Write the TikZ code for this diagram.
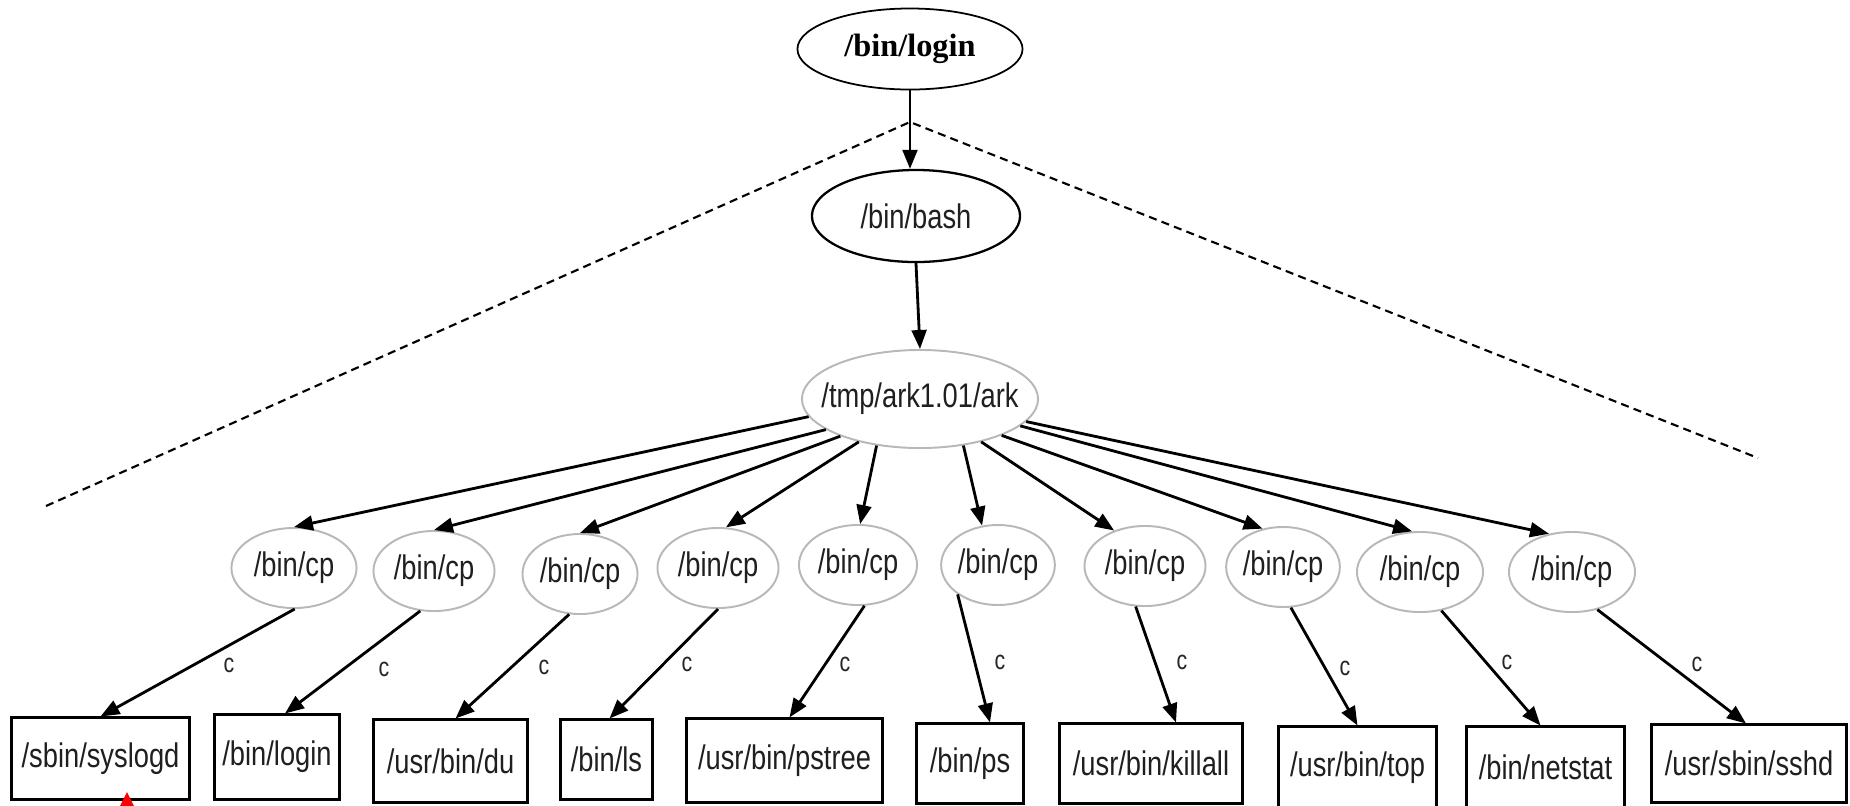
\documentclass[tikz,border=0pt]{standalone}
\usepackage{fontspec}
\newfontfamily\labfont[FakeStretch=0.80]{Liberation Sans}
\newfontfamily\tmsfont{Liberation Serif}
\usetikzlibrary{shapes.geometric,arrows.meta}
\tikzset{
  lab/.style={font=\labfont\fontsize{9.7}{11}\selectfont, text=black!88},
  cpnode/.style={ellipse, draw=black!28, line width=0.55pt, inner sep=0pt, minimum height=0.80cm, lab},
  boxnode/.style={rectangle, draw=black, line width=0.85pt, inner sep=0pt, lab},
  arr/.style={line width=0.8pt, -{Triangle[length=5.4pt,width=4.2pt]}},
  clab/.style={font=\labfont\fontsize{7.6}{9}\selectfont, text=black!85, inner sep=0pt},
  dashln/.style={dash pattern=on 2.3pt off 1.5pt, line width=0.6pt},
}
\begin{document}
\begin{tikzpicture}[x=0.01cm,y=-0.01cm]
\useasboundingbox (0,0) rectangle (1850,805);
\fill[white] (0,0) rectangle (1850,805);
\clip (0,0) rectangle (1850,805);

% dashed triangle
\coordinate (apex) at (910,122);
\coordinate (dl) at (46,506);
\coordinate (dr) at (1758,458);
\draw[dashln] (dl) -- (apex) -- (dr);

% top nodes
\node[ellipse, draw=black, line width=0.5pt, inner sep=0pt, minimum width=2.25cm, minimum height=0.81cm,
      font=\tmsfont\bfseries\fontsize{9.2}{11}\selectfont] (login) at (910,49) {/bin/login};
\node[ellipse, draw=black, line width=0.65pt, inner sep=0pt, minimum width=2.08cm, minimum height=0.92cm, lab] (bash) at (916,216) {/bin/bash};
\node[ellipse, draw=black!28, line width=0.55pt, inner xsep=-8pt, inner ysep=0pt, minimum width=2.36cm, minimum height=0.98cm, lab] (ark) at (920,399) {/tmp/ark1.01/ark};

\draw[arr] (login.south) -- (login.south |- bash.north);
\draw[arr] (bash.south) -- (ark.north);

% cp nodes
\foreach \i/\x/\y/\w in {1/294/568/1.25, 2/434/571/1.21, 3/580/574/1.15, 4/718/568/1.21, 5/858/565/1.18,
                        6/998/565/1.11, 7/1145/566/1.21, 8/1283/567/1.12, 9/1420/572/1.26, 10/1572/572/1.26}
  \node[cpnode, minimum width=\w cm] (cp\i) at (\x,\y) {/bin/cp};

% boxes
\node[boxnode, minimum width=1.77cm, minimum height=0.81cm] (b1) at (100.5,758.5) {/sbin/syslogd\hspace{7.5pt}};
\node[boxnode, minimum width=1.24cm, minimum height=0.84cm] (b2) at (277,757) {/bin/login};
\node[boxnode, minimum width=1.53cm, minimum height=0.82cm] (b3) at (450.5,761) {/usr/bin/du};
\node[boxnode, minimum width=0.91cm, minimum height=0.79cm] (b4) at (606.5,759.5) {/bin/ls};
\node[boxnode, minimum width=1.95cm, minimum height=0.83cm] (b5) at (784.5,760.5) {/usr/bin/pstree};
\node[boxnode, minimum width=1.06cm, minimum height=0.79cm] (b6) at (970,763.5) {/bin/ps};
\node[boxnode, minimum width=1.82cm, minimum height=0.79cm] (b7) at (1151,763.5) {/usr/bin/killall};
\node[boxnode, minimum width=1.57cm, minimum height=0.81cm] (b8) at (1357.5,767.5) {/usr/bin/top};
\node[boxnode, minimum width=1.57cm, minimum height=0.81cm] (b9) at (1545.5,767.5) {/bin/netstat};
\node[boxnode, minimum width=1.94cm, minimum height=0.77cm] (b10) at (1749,763.5) {/usr/sbin/sshd};

% ark -> cp arrows
\foreach \i/\s/\e in {1/189/90, 2/198/90, 3/205/90, 4/215/79, 5/227/87,
                      6/313/112, 7/325/131, 8/336/118, 9/345/101, 10/348/121}
  \draw[arr] (ark.\s) -- (cp\i.\e);

% cp -> box arrows
\foreach \i/\s/\dx in {1/271/0, 2/251/8, 3/255/5, 4/270/3, 5/279/5,
                       6/216/20, 7/257/25, 8/281/0, 9/299/-5, 10/304/-3}
  \draw[arr] (cp\i.\s) -- ([xshift=\dx*0.01cm]b\i.north);

% edge labels
\foreach \i/\x/\y in {1/229/665, 2/384/669, 3/544/667, 4/687/664, 5/845/664,
                      6/1000/662, 7/1182/662, 8/1345/668, 9/1507/662, 10/1697/664}
  \node[clab] (c\i) at (\x,\y) {c};

% red arrow tip at bottom
\fill[red] (127,792) -- (117,812) -- (137,812) -- cycle;
\end{tikzpicture}
\end{document}
